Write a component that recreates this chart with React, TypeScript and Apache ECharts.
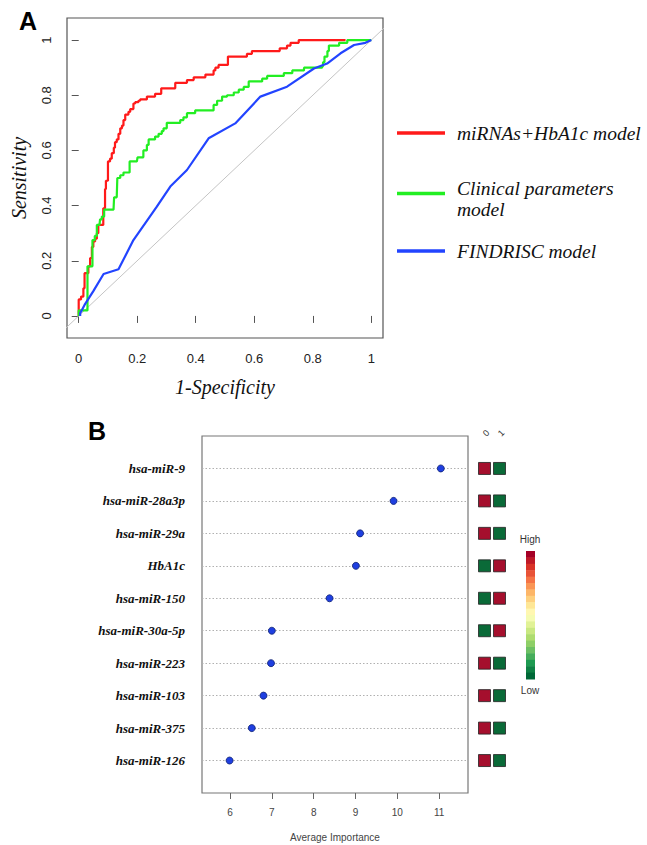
import React, { useEffect, useRef } from 'react';
import * as echarts from 'echarts';

// ---------- Panel A: ROC curves ----------
const rocTicks = [0, 0.2, 0.4, 0.6, 0.8, 1];
const redName = 'miRNAs+HbA1c model';
const greenName = 'Clinical parameters model';
const blueName = 'FINDRISC model';

// [1-specificity, sensitivity] (step curves: value reached at that x)
const redRoc: number[][] = [
  [0, 0], [0, 0.06], [0.008, 0.07], [0.016, 0.1], [0.02, 0.155], [0.03, 0.155], [0.033, 0.18],
  [0.039, 0.21], [0.045, 0.25], [0.05, 0.27], [0.056, 0.28], [0.062, 0.3], [0.067, 0.33], [0.08, 0.33],
  [0.084, 0.39], [0.09, 0.46], [0.093, 0.49], [0.1, 0.56], [0.107, 0.57], [0.113, 0.59], [0.12, 0.61],
  [0.124, 0.63], [0.13, 0.64], [0.136, 0.66], [0.142, 0.68], [0.148, 0.69], [0.153, 0.71], [0.159, 0.73],
  [0.17, 0.74], [0.176, 0.75], [0.187, 0.77], [0.193, 0.775], [0.204, 0.78], [0.21, 0.785], [0.233, 0.795],
  [0.261, 0.805], [0.282, 0.825], [0.33, 0.845], [0.37, 0.855], [0.393, 0.865], [0.433, 0.875], [0.461, 0.89],
  [0.467, 0.9], [0.478, 0.91], [0.51, 0.94], [0.575, 0.95], [0.592, 0.96], [0.687, 0.97], [0.712, 0.98],
  [0.724, 0.99], [0.752, 1], [0.912, 1],
];
const greenRoc: number[][] = [
  [0, 0], [0, 0.02], [0.022, 0.02], [0.03, 0.18], [0.041, 0.18], [0.047, 0.275], [0.055, 0.29], [0.062, 0.33],
  [0.071, 0.33], [0.073, 0.35], [0.079, 0.36], [0.087, 0.385], [0.119, 0.385], [0.121, 0.43], [0.13, 0.43],
  [0.132, 0.5], [0.142, 0.51], [0.153, 0.52], [0.17, 0.52], [0.174, 0.56], [0.199, 0.56], [0.201, 0.575],
  [0.216, 0.575], [0.221, 0.6], [0.233, 0.62], [0.239, 0.64], [0.256, 0.64], [0.261, 0.65], [0.273, 0.66],
  [0.284, 0.67], [0.29, 0.68], [0.301, 0.7], [0.341, 0.7], [0.347, 0.71], [0.358, 0.72], [0.37, 0.735],
  [0.393, 0.735], [0.398, 0.745], [0.455, 0.745], [0.461, 0.765], [0.473, 0.78], [0.49, 0.795], [0.507, 0.8],
  [0.53, 0.81], [0.547, 0.82], [0.564, 0.83], [0.581, 0.85], [0.621, 0.85], [0.627, 0.86], [0.644, 0.87],
  [0.701, 0.88], [0.73, 0.89], [0.77, 0.9], [0.832, 0.905], [0.835, 0.92], [0.84, 0.94], [0.85, 0.96],
  [0.855, 0.98], [0.89, 0.99], [0.918, 1], [1, 1],
];
const blueRoc: number[][] = [
  [0.005, 0], [0.005, 0.01], [0.02, 0.04], [0.05, 0.09], [0.085, 0.152], [0.136, 0.169], [0.187, 0.275],
  [0.267, 0.396], [0.313, 0.469], [0.37, 0.529], [0.444, 0.644], [0.535, 0.698], [0.621, 0.795],
  [0.712, 0.831], [0.804, 0.897], [0.849, 0.915], [0.895, 0.952], [0.941, 0.982], [0.98, 0.99], [1, 1],
];
const diagonal: number[][] = [[-0.1, -0.1], [1.1, 1.1]];

// ---------- Panel B: variable importance ----------
const features = [
  'hsa-miR-9', 'hsa-miR-28a3p', 'hsa-miR-29a', 'HbA1c', 'hsa-miR-150',
  'hsa-miR-30a-5p', 'hsa-miR-223', 'hsa-miR-103', 'hsa-miR-375', 'hsa-miR-126',
];
const importance = [11.04, 9.91, 9.11, 9.01, 8.38, 7.0, 6.98, 6.8, 6.52, 5.99];
const importanceTicks = [6, 7, 8, 9, 10, 11];
const classLabels = ['0', '1'];
// 1 = High, 0 = Low, for class 0 and class 1
const class0Level = [1, 1, 1, 0, 0, 0, 1, 1, 1, 1];
const class1Level = [0, 0, 0, 1, 1, 1, 0, 0, 0, 0];

const SERIF = '"Liberation Serif", "Times New Roman", serif';
const SANS = '"Liberation Sans", Arial, sans-serif';
const HIGH = '#a50f2d';
const LOW = '#0a6a38';
const rdylgn = ['#a50026', '#d73027', '#f46d43', '#fdae61', '#fee08b', '#ffffbf', '#d9ef8b', '#a6d96a', '#66bd63', '#1a9850', '#006837'];

export default function App() {
  const ref = useRef<HTMLDivElement>(null);
  useEffect(() => {
    document.body.style.margin = '0';
    if (!ref.current) return;
    const chart = echarts.init(ref.current, null, { renderer: 'svg' });
    const n = features.length;
    const rowY = (i: number) => n - i;

    const barSteps = 20;
    const barTop = 551, barH = 128, barX = 526, barW = 9;
    const barRects = Array.from({ length: barSteps }, (_, k) => ({
      type: 'rect',
      shape: { x: barX, y: barTop + (k * barH) / barSteps, width: barW, height: barH / barSteps + 0.5 },
      style: { fill: echarts.color.lerp(k / (barSteps - 1), rdylgn) },
      silent: true,
    }));

    const legendText = { fontFamily: SERIF, fontStyle: 'italic', fontSize: 19.5, color: '#111', padding: [0, 0, 0, 7] };
    const legendCommon = {
      orient: 'vertical', padding: 0, icon: 'rect', itemWidth: 48, itemHeight: 3.5,
      selectedMode: false,
    };

    const tiles: any[] = [];
    features.forEach((_, i) => {
      tiles.push({ value: [0, rowY(i)], itemStyle: { color: class0Level[i] ? HIGH : LOW } });
      tiles.push({ value: [1, rowY(i)], itemStyle: { color: class1Level[i] ? HIGH : LOW } });
    });

    chart.setOption({
      animation: false,
      grid: [
        { left: 67, top: 18, width: 316, height: 320, show: true, borderColor: '#555', borderWidth: 1.2, backgroundColor: 'transparent' },
        { left: 202, top: 436, width: 266, height: 357, show: true, borderColor: '#777', borderWidth: 1.2, backgroundColor: 'transparent' },
        { left: 477, top: 436, width: 30, height: 357, show: false },
      ],
      xAxis: [
        {
          gridIndex: 0, type: 'value', min: -0.04, max: 1.04,
          axisLine: { show: false }, splitLine: { show: false },
          axisTick: { show: true, length: 7, lineStyle: { color: '#555' }, customValues: rocTicks },
          axisLabel: { customValues: rocTicks, margin: 14, fontSize: 13, color: '#222', fontFamily: SANS, formatter: (v: number) => String(v) },
          name: '1-Specificity', nameLocation: 'middle', nameGap: 39,
          nameTextStyle: { fontFamily: SERIF, fontStyle: 'italic', fontSize: 20, color: '#111' },
        },
        {
          gridIndex: 1, type: 'value', min: 5.33, max: 11.69,
          axisLine: { show: false }, splitLine: { show: false },
          axisTick: { show: true, length: 6, lineStyle: { color: '#666' }, customValues: importanceTicks },
          axisLabel: { customValues: importanceTicks, margin: 14, fontSize: 10, color: '#444', fontFamily: SANS },
          name: 'Average Importance', nameLocation: 'middle', nameGap: 39,
          nameTextStyle: { fontFamily: SANS, fontSize: 10, color: '#444' },
        },
        {
          gridIndex: 2, type: 'value', min: -0.5, max: 1.5, position: 'top',
          axisLine: { show: false }, splitLine: { show: false }, axisTick: { show: false },
          axisLabel: {
            customValues: [0, 1], rotate: 45, margin: 1, fontSize: 9, color: '#333', fontFamily: SANS,
            formatter: (v: number) => classLabels[Math.round(v)],
          },
        },
      ],
      yAxis: [
        {
          gridIndex: 0, type: 'value', min: -0.08, max: 1.08,
          axisLine: { show: false }, splitLine: { show: false },
          axisTick: { show: true, length: 7, lineStyle: { color: '#555' }, customValues: rocTicks },
          axisLabel: { customValues: rocTicks, rotate: 90, margin: 14, fontSize: 13, color: '#222', fontFamily: SANS, formatter: (v: number) => String(v) },
          name: 'Sensitivity', nameLocation: 'middle', nameGap: 38,
          nameTextStyle: { fontFamily: SERIF, fontStyle: 'italic', fontSize: 20, color: '#111' },
        },
        {
          gridIndex: 1, type: 'value', min: 0, max: n + 1,
          axisLine: { show: false }, splitLine: { show: false }, axisTick: { show: false },
          axisLabel: {
            customValues: features.map((_, i) => rowY(i)), margin: 17,
            fontFamily: SERIF, fontStyle: 'italic', fontWeight: 'bold', fontSize: 13, color: '#111',
            formatter: (v: number) => features[n - Math.round(v)],
          },
        },
        {
          gridIndex: 2, type: 'value', min: 0, max: n + 1, show: false,
        },
      ],
      legend: [
        { ...legendCommon, data: [redName], left: 397, top: 123, textStyle: legendText },
        {
          ...legendCommon, data: [greenName], left: 397, top: 170,
          formatter: () => '{g| }\n{t|Clinical parameters}\n{t|model}',
          textStyle: {
            ...legendText,
            rich: {
              g: { fontSize: 5, lineHeight: 10 },
              t: { fontFamily: SERIF, fontStyle: 'italic', fontSize: 19.5, color: '#111', lineHeight: 21 },
            },
          },
        },
        { ...legendCommon, data: [blueName], left: 397, top: 241, textStyle: legendText },
      ],
      series: [
        {
          type: 'line', xAxisIndex: 0, yAxisIndex: 0, data: diagonal, showSymbol: false, silent: true,
          lineStyle: { color: '#c4c4c4', width: 1 }, clip: true,
        },
        {
          name: redName, type: 'line', step: 'end', xAxisIndex: 0, yAxisIndex: 0, data: redRoc, showSymbol: false,
          color: '#ff1a1a', lineStyle: { color: '#ff1a1a', width: 2.2 }, clip: true,
        },
        {
          name: greenName, type: 'line', step: 'end', xAxisIndex: 0, yAxisIndex: 0, data: greenRoc, showSymbol: false,
          color: '#22ee22', lineStyle: { color: '#22ee22', width: 2.2 }, clip: true,
        },
        {
          name: blueName, type: 'line', xAxisIndex: 0, yAxisIndex: 0, data: blueRoc, showSymbol: false,
          color: '#2244ff', lineStyle: { color: '#2244ff', width: 2.2 }, clip: true,
        },
        {
          type: 'scatter', xAxisIndex: 1, yAxisIndex: 1,
          data: importance.map((v, i) => [v, rowY(i)]),
          symbol: 'circle', symbolSize: 7,
          itemStyle: { color: '#1f3fe0', borderColor: '#0d1f70', borderWidth: 0.8, opacity: 1 },
          z: 5,
          markLine: {
            silent: true, symbol: ['none', 'none'], label: { show: false },
            lineStyle: { type: [1.5, 2], color: '#b0b0b0', width: 1 },
            data: features.map((_, i) => ({ yAxis: rowY(i) })),
            z: 1,
          },
        },
        {
          type: 'scatter', xAxisIndex: 2, yAxisIndex: 2, data: tiles,
          symbol: 'rect', symbolSize: 12,
          itemStyle: { borderColor: '#222', borderWidth: 0.8, opacity: 1 },
        },
      ],
      graphic: [
        { type: 'text', left: 19, top: 8, style: { text: 'A', font: `bold 25px ${SANS}`, fill: '#000' } },
        { type: 'text', left: 88, top: 418, style: { text: 'B', font: `bold 25px ${SANS}`, fill: '#000' } },
        { type: 'text', x: 530, y: 539, style: { text: 'High', font: `10px ${SANS}`, fill: '#333', align: 'center', verticalAlign: 'middle' } },
        { type: 'text', x: 530, y: 690, style: { text: 'Low', font: `10px ${SANS}`, fill: '#333', align: 'center', verticalAlign: 'middle' } },
        ...barRects,
      ],
    });
    return () => chart.dispose();
  }, []);
  return <div ref={ref} style={{ width: 647, height: 845 }} />;
}
